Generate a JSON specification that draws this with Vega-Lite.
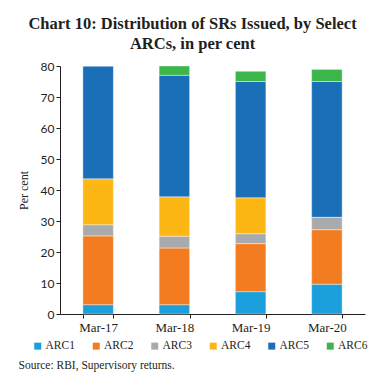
{
  "$schema": "https://vega.github.io/schema/vega-lite/v6.json",
  "width": 305,
  "height": 248,
  "autosize": {"type": "pad"},
  "padding": {"left": 17, "right": 18, "top": 15, "bottom": 10},
  "background": "white",
  "title": {
    "text": ["Chart 10: Distribution of SRs Issued, by Select", "ARCs, in per cent"],
    "font": "Liberation Serif",
    "fontSize": 16.5,
    "fontWeight": "bold",
    "lineHeight": 20,
    "color": "#231f20",
    "anchor": "middle",
    "frame": "bounds",
    "offset": 8
  },
  "data": {
    "values": [
      {"period": "Mar-17", "arc": "ARC1", "ord": 1, "value": 3.0},
      {"period": "Mar-17", "arc": "ARC2", "ord": 2, "value": 22.2},
      {"period": "Mar-17", "arc": "ARC3", "ord": 3, "value": 3.6},
      {"period": "Mar-17", "arc": "ARC4", "ord": 4, "value": 14.8},
      {"period": "Mar-17", "arc": "ARC5", "ord": 5, "value": 36.4},
      {"period": "Mar-17", "arc": "ARC6", "ord": 6, "value": 0},
      {"period": "Mar-18", "arc": "ARC1", "ord": 1, "value": 3.0},
      {"period": "Mar-18", "arc": "ARC2", "ord": 2, "value": 18.3},
      {"period": "Mar-18", "arc": "ARC3", "ord": 3, "value": 3.8},
      {"period": "Mar-18", "arc": "ARC4", "ord": 4, "value": 12.7},
      {"period": "Mar-18", "arc": "ARC5", "ord": 5, "value": 39.2},
      {"period": "Mar-18", "arc": "ARC6", "ord": 6, "value": 3.0},
      {"period": "Mar-19", "arc": "ARC1", "ord": 1, "value": 7.2},
      {"period": "Mar-19", "arc": "ARC2", "ord": 2, "value": 15.5},
      {"period": "Mar-19", "arc": "ARC3", "ord": 3, "value": 3.2},
      {"period": "Mar-19", "arc": "ARC4", "ord": 4, "value": 11.6},
      {"period": "Mar-19", "arc": "ARC5", "ord": 5, "value": 37.5},
      {"period": "Mar-19", "arc": "ARC6", "ord": 6, "value": 3.3},
      {"period": "Mar-20", "arc": "ARC1", "ord": 1, "value": 9.6},
      {"period": "Mar-20", "arc": "ARC2", "ord": 2, "value": 17.6},
      {"period": "Mar-20", "arc": "ARC3", "ord": 3, "value": 4.0},
      {"period": "Mar-20", "arc": "ARC4", "ord": 4, "value": 0},
      {"period": "Mar-20", "arc": "ARC5", "ord": 5, "value": 43.8},
      {"period": "Mar-20", "arc": "ARC6", "ord": 6, "value": 3.9}
    ]
  },
  "mark": {"type": "bar", "stroke": "white", "strokeWidth": 0.4},
  "encoding": {
    "x": {
      "field": "period",
      "type": "nominal",
      "sort": null,
      "scale": {"paddingInner": 0.6, "paddingOuter": 0.3},
      "axis": {
        "title": "Source: RBI, Supervisory returns.",
        "titleFont": "Liberation Serif",
        "titleFontSize": 11.5,
        "titleFontWeight": "normal",
        "titleColor": "#231f20",
        "titleAlign": "left",
        "titleBaseline": "alphabetic",
        "titleX": -42,
        "titleY": 54,
        "labelAngle": 0,
        "labelFont": "Liberation Serif",
        "labelFontSize": 13,
        "labelColor": "#231f20",
        "labelPadding": 3,
        "ticks": true,
        "tickBand": "extent",
        "tickSize": 4,
        "tickColor": "#231f20",
        "domainColor": "#231f20"
      }
    },
    "y": {
      "field": "value",
      "type": "quantitative",
      "stack": "zero",
      "scale": {"domain": [0, 80], "nice": false},
      "axis": {
        "title": "Per cent",
        "titleFont": "Liberation Serif",
        "titleFontSize": 12,
        "titleFontWeight": "normal",
        "titleColor": "#231f20",
        "titlePadding": 10,
        "values": [0, 10, 20, 30, 40, 50, 60, 70, 80],
        "grid": false,
        "labelFont": "Lato",
        "labelFontSize": 12,
        "labelColor": "#231f20",
        "tickSize": 4,
        "tickColor": "#231f20",
        "domainColor": "#231f20"
      }
    },
    "color": {
      "field": "arc",
      "type": "nominal",
      "scale": {
        "domain": ["ARC1", "ARC2", "ARC3", "ARC4", "ARC5", "ARC6"],
        "range": ["#1a9fdb", "#f47c20", "#a9aaad", "#fdb714", "#1a6fb8", "#3cb54a"]
      },
      "legend": {
        "orient": "none",
        "legendX": -28,
        "legendY": 274,
        "direction": "horizontal",
        "title": null,
        "labelFont": "Liberation Serif",
        "labelFontSize": 11.5,
        "labelColor": "#231f20",
        "symbolType": "square",
        "symbolSize": 49,
        "symbolStrokeWidth": 0,
        "columnPadding": 15.5,
        "labelOffset": 2
      }
    },
    "order": {"field": "ord", "type": "quantitative"}
  },
  "config": {"view": {"stroke": null}}
}
